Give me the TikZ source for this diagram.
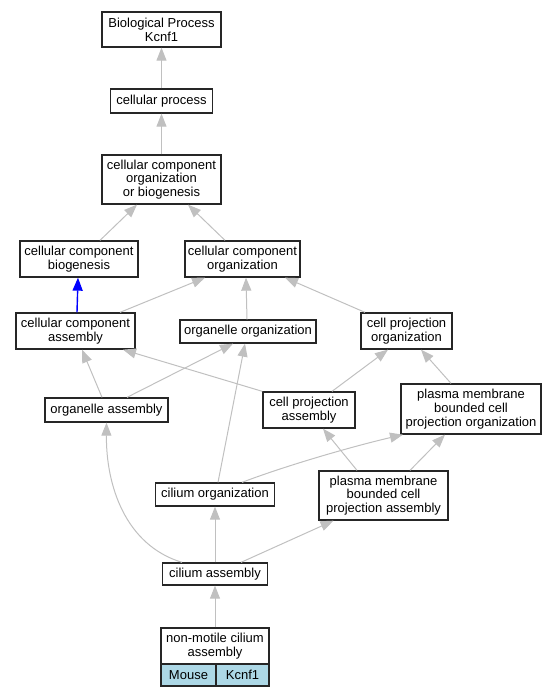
\documentclass[tikz,border=0pt]{standalone}
\usepackage{fontspec}
\setmainfont{Liberation Sans}
\usetikzlibrary{arrows.meta,calc}
\definecolor{edgegray}{RGB}{192,192,192}
\definecolor{cellblue}{RGB}{173,216,230}
\newcommand\nodefont{\fontsize{13}{13.8}\selectfont}
\begin{document}
\begin{tikzpicture}[x=1pt,y=-1pt,
  box/.style={draw=black!85, line width=1.3pt, fill=white, inner sep=0pt, align=center, font=\nodefont},
  cellbox/.style={box, fill=cellblue},
  isa/.style={draw=edgegray, line width=1pt, -{Triangle[length=13pt,width=10pt]}},
  blueisa/.style={draw=blue, line width=1.4pt, -{Triangle[length=13pt,width=10pt]}}]
\useasboundingbox (0,0) rectangle (556,696);
% nodes
\node[box, minimum width=119pt, minimum height=35pt] (bp) at (161.5,29.5) {Biological Process\\Kcnf1};
\node[box, minimum width=102pt, minimum height=24pt] (cp) at (161.5,101) {cellular process};
\node[box, minimum width=119pt, minimum height=49pt] (ccobg) at (161.5,179.5) {cellular component\\organization\\or biogenesis};
\node[box, minimum width=118pt, minimum height=36pt] (ccb) at (79,259) {cellular component\\biogenesis};
\node[box, minimum width=115pt, minimum height=36pt] (cco) at (242.5,259) {cellular component\\organization};
\node[box, minimum width=119pt, minimum height=36pt] (cca) at (75.5,331) {cellular component\\assembly};
\node[box, minimum width=136pt, minimum height=23pt] (oo) at (248,331.5) {organelle organization};
\node[box, minimum width=91pt, minimum height=36pt] (cpo) at (406.5,331) {cell projection\\organization};
\node[box, minimum width=123pt, minimum height=24pt] (oa) at (106.5,410) {organelle assembly};
\node[box, minimum width=92pt, minimum height=36pt] (cpa) at (309,410) {cell projection\\assembly};
\node[box, minimum width=140pt, minimum height=50pt] (pmbcpo) at (471,409) {plasma membrane\\bounded cell\\projection organization};
\node[box, minimum width=119pt, minimum height=23pt] (co) at (215,494.5) {cilium organization};
\node[box, minimum width=129pt, minimum height=49pt] (pmbcpa) at (383.5,495.5) {plasma membrane\\bounded cell\\projection assembly};
\node[box, minimum width=105pt, minimum height=22pt] (ca) at (215,574) {cilium assembly};
\node[box, minimum width=108pt, minimum height=36pt] (nm) at (215,646) {non-motile cilium\\assembly};
\node[cellbox, minimum width=55pt, minimum height=22pt] (mouse) at (188.5,675) {Mouse};
\node[cellbox, minimum width=53pt, minimum height=22pt] (gene) at (242.5,675) {Kcnf1};
% edges
\draw[isa] (cp.north) -- (bp.south);
\draw[isa] (ccobg.north) -- (cp.south);
\draw[isa] ($(ccb.north)+(21,0)$) -- ($(ccobg.south)+(-24.5,0)$);
\draw[isa] ($(cco.north)+(-17.5,0)$) -- ($(ccobg.south)+(26.5,0)$);
\draw[blueisa] ($(cca.north)+(1.5,0)$) -- ($(ccb.south)+(-1,0)$);
\draw[isa] ($(cca.north)+(44.5,0)$) -- ($(cco.south)+(-37.5,0)$);
\draw[isa] ($(oo.north)+(-1,0)$) -- ($(cco.south)+(3.5,0)$);
\draw[isa] ($(cpo.north)+(-41.5,0)$) -- ($(cco.south)+(42.5,0)$);
\draw[isa] ($(oa.north)+(-4.5,0)$) -- ($(cca.south)+(6.5,0)$);
\draw[isa] ($(oa.north)+(20.5,0)$) -- ($(oo.south)+(-15,0)$);
\draw[isa] (cpa.north west) -- ($(cca.south)+(47.5,0)$);
\draw[isa] ($(cpa.north)+(23,0)$) -- ($(cpo.south)+(-18.5,0)$);
\draw[isa] ($(pmbcpo.north)+(-20,0)$) -- ($(cpo.south)+(14.5,0)$);
\draw[isa] ($(co.north)+(3,0)$) -- ($(oo.south)+(-3,0)$);
\draw[isa] ($(co.north)+(27,0)$) .. controls (285,466) and (350,447) .. ($(pmbcpo.south)+(-68,0)$);
\draw[isa] ($(pmbcpa.north)+(-26.5,0)$) -- ($(cpa.south)+(14,0)$);
\draw[isa] ($(pmbcpa.north)+(26.5,0)$) -- ($(pmbcpo.south)+(-26,0)$);
\draw[isa] ($(ca.north)+(-33,0)$) .. controls (125,545) and (106,485) .. (oa.south);
\draw[isa] (ca.north) -- (co.south);
\draw[isa] ($(ca.north)+(26,0)$) -- ($(pmbcpa.south)+(-50,0)$);
\draw[isa] (nm.north) -- (ca.south);
\end{tikzpicture}
\end{document}
